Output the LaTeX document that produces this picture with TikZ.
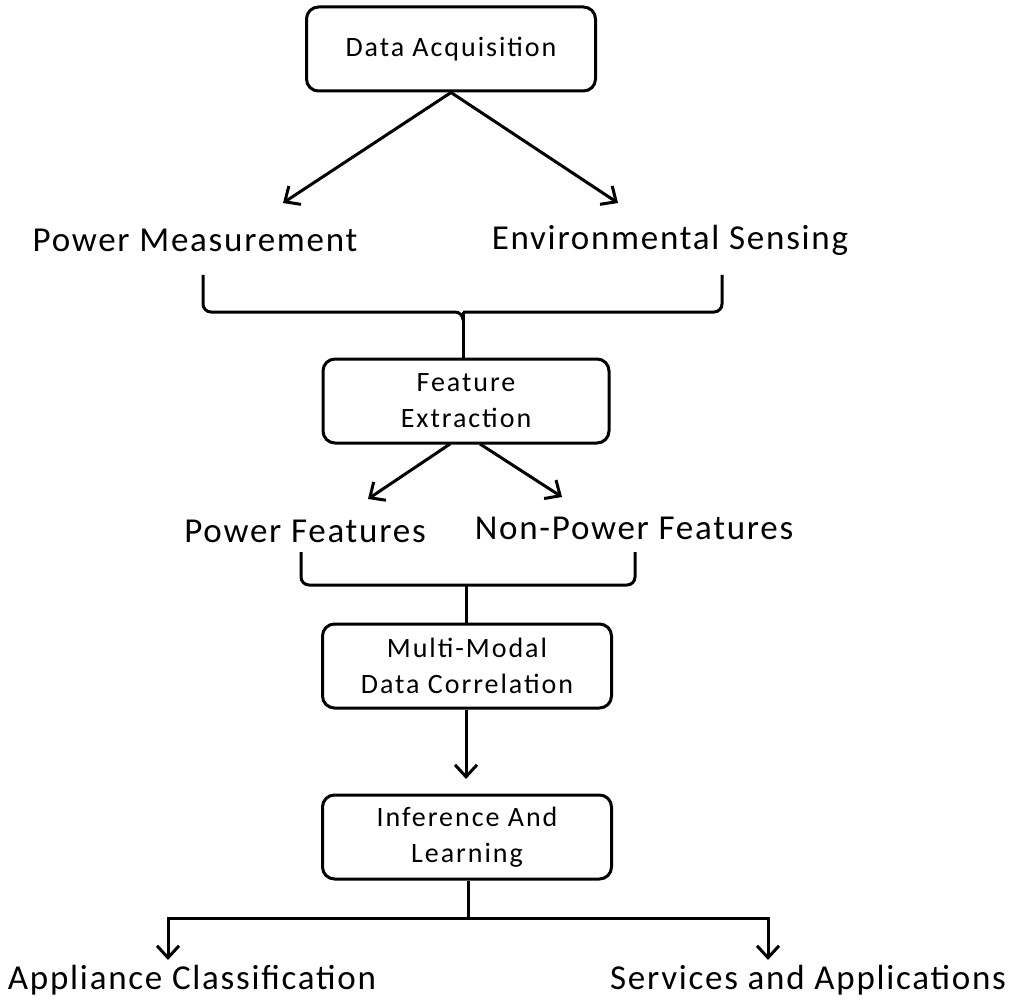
\documentclass[tikz,border=0pt]{standalone}
\usepackage{fontspec}
\setmainfont{Carlito}
\usetikzlibrary{arrows.meta}
\begin{document}
\begin{tikzpicture}[x=1pt,y=-1pt,
  box/.style={draw,line width=3pt,rounded corners=12pt,minimum width=286pt,minimum height=84pt,align=center,font=\fontsize{28}{36}\selectfont\addfontfeature{LetterSpace=7}},
  lbl/.style={font=\fontsize{35}{36}\selectfont\addfontfeature{LetterSpace=5}},
  ar/.style={line width=3pt,-{Straight Barb[length=12pt,width=22pt,line width=3pt]}},
  ln/.style={line width=3pt,rounded corners=8pt}]
\useasboundingbox (0,0) rectangle (1014,1000);
\node[box,minimum width=289pt] (da) at (451,49) {Data Acquisition};
\node[box] (fe) at (466,401) {Feature\\Extraction};
\node[box,minimum width=289pt] (mm) at (467,666) {Multi-Modal\\Data Correlation};
\node[box,minimum width=289pt] (il) at (467,837) {Inference And\\Learning};
\node[lbl] (pm) at (195,240) {Power Measurement};
\node[lbl] (es) at (670,240) {Environmental Sensing};
\node[lbl] (pf) at (305,531) {Power Features};
\node[lbl] (npf) at (634,528) {Non-Power Features};
\node[lbl] (ac) at (192,980) {Appliance Classification};
\node[lbl] (sa) at (808,980) {Services and Applications};
\coordinate (t1) at (283,203); \coordinate (t2) at (618,203);
\draw[ar] (da.south) -- (t1);
\draw[ar] (da.south) -- (t2);
\draw[ln] (203,275) -- (203,312) -- (463,312) -- (463,320);
\draw[ln] (722,275) -- (722,312) -- (463,312);
\draw[line width=3pt] (463,312) -- (fe.north -| 463,0);
\coordinate (f1) at (368,499); \coordinate (f2) at (562,497);
\draw[ar] (450,444) -- (f1);
\draw[ar] (480,444) -- (f2);
\draw[ln] (301,552) -- (301,585) -- (635,585) -- (635,552);
\draw[line width=3pt] (466,585) -- (mm.north -| 466,0);
\coordinate (m1) at (466,779);
\draw[ar] (mm.south -| 466,0) -- (m1);
\coordinate (c1) at (168,960); \coordinate (c2) at (768,960);
\draw[line width=3pt] (il.south -| 468,0) -- (468,918);
\draw[ar] (468,918) -- (168,918) -- (c1);
\draw[ar] (468,918) -- (768,918) -- (c2);
\end{tikzpicture}
\end{document}
